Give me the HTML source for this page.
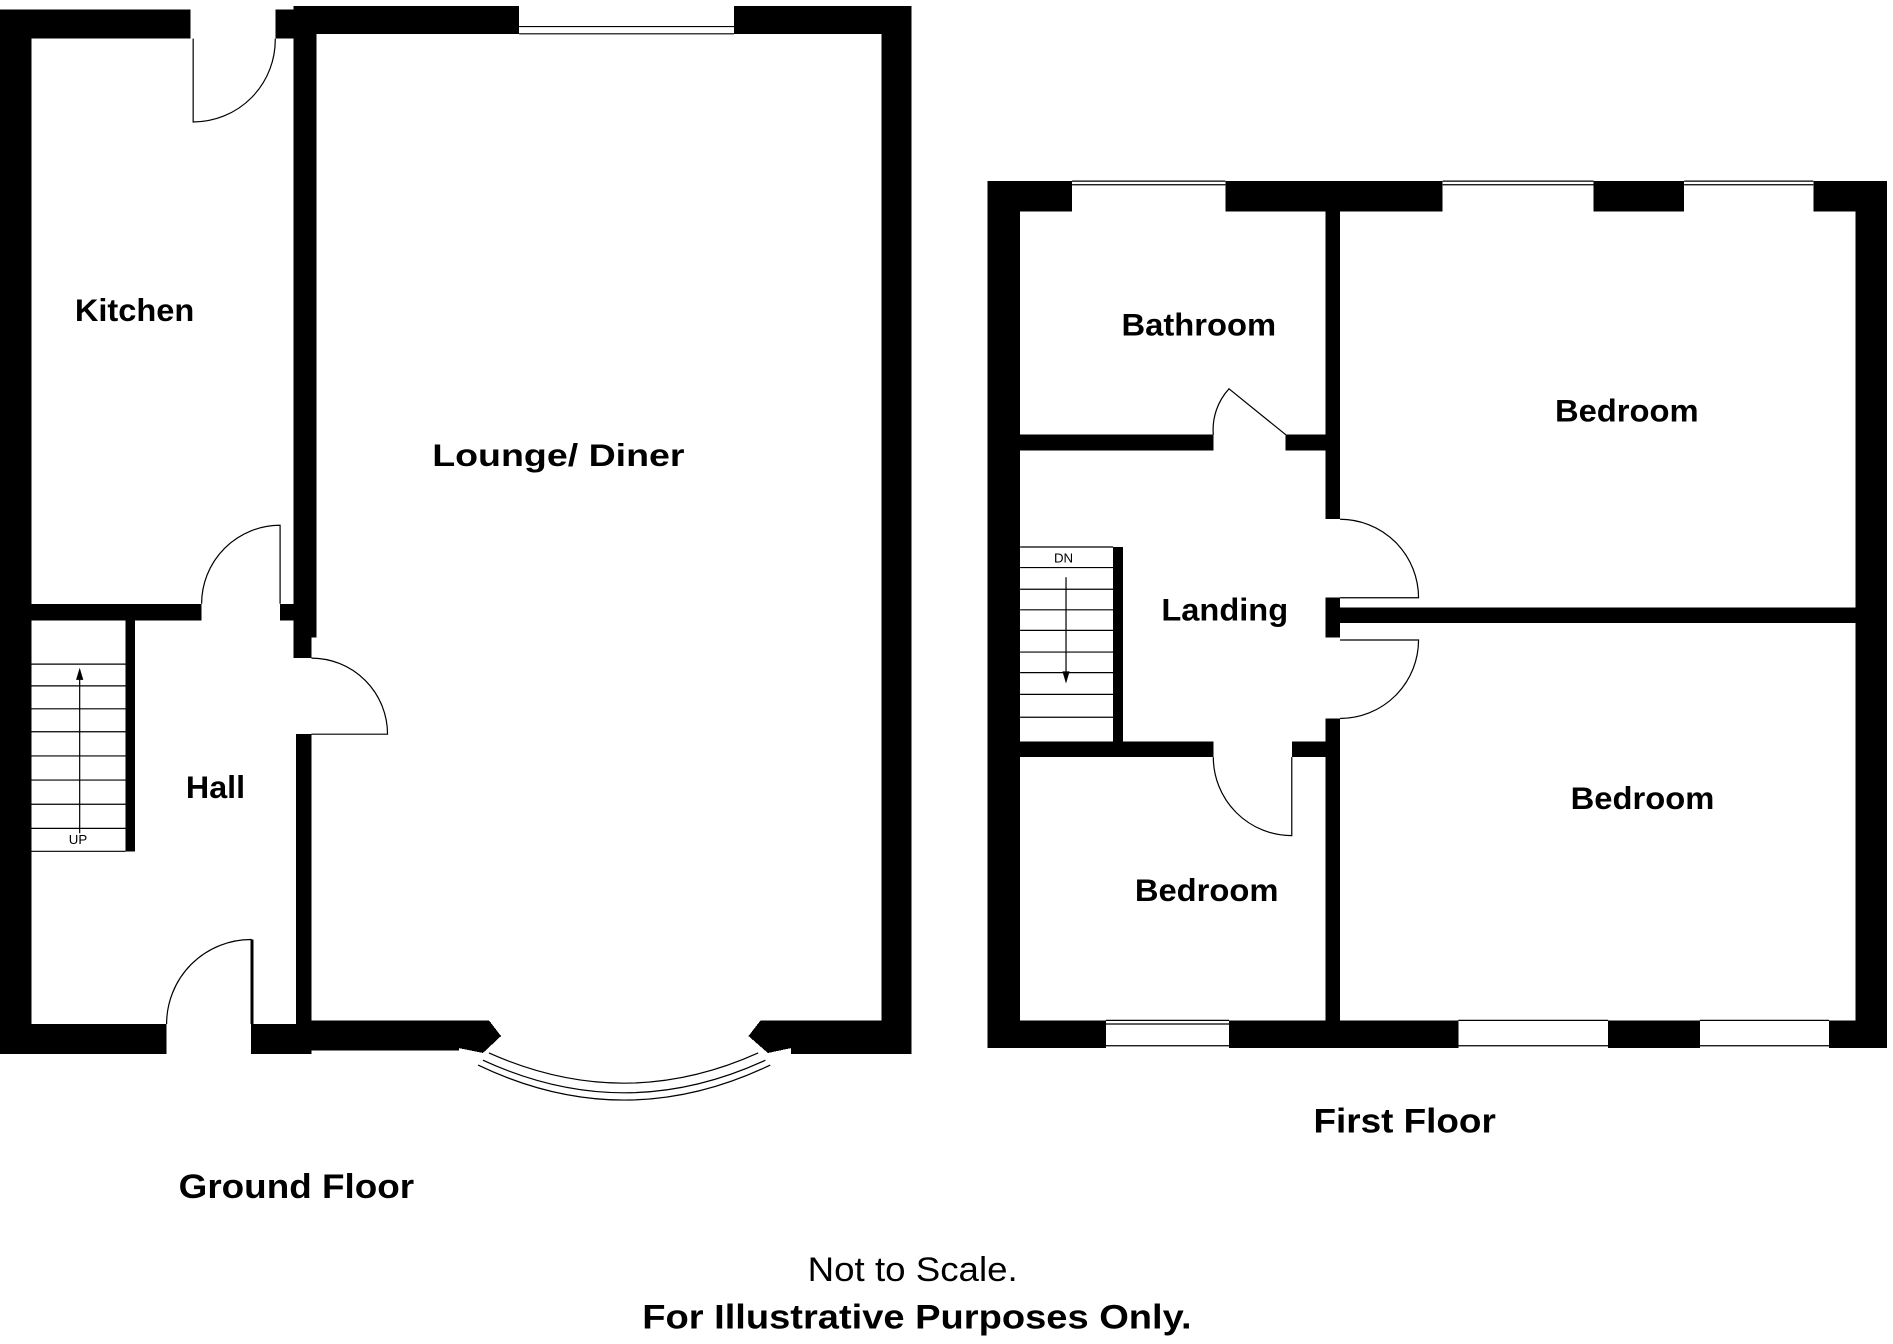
<!DOCTYPE html>
<html><head><meta charset="utf-8"><style>
html,body{margin:0;padding:0;background:#fff;}
svg{display:block}
text{font-family:"Liberation Sans",sans-serif;}
</style></head><body>
<svg width="1893" height="1344" viewBox="0 0 1568 1113" preserveAspectRatio="none" xmlns="http://www.w3.org/2000/svg">
<g fill="#000" shape-rendering="crispEdges">
<!-- Ground floor -->
<rect x="0" y="8" width="26" height="865"/>
<rect x="0" y="8" width="158" height="24"/>
<rect x="228" y="8" width="17" height="24"/>
<rect x="243" y="5" width="187" height="23"/>
<rect x="608" y="5" width="147" height="23"/>
<rect x="730" y="5" width="25" height="868"/>
<rect x="243" y="5" width="19" height="523"/>
<rect x="0" y="848" width="138" height="25"/>
<rect x="208" y="848" width="50" height="25"/>
<rect x="245" y="845" width="135" height="25"/>
<rect x="655" y="845" width="100" height="28"/>
<polygon points="380,845 405,845 415,858 400,872 380,868"/>
<polygon points="655,845 630,845 620,858 636,872 655,868"/>
<rect x="26" y="500" width="141" height="14"/>
<rect x="232" y="500" width="13" height="14"/>
<rect x="245" y="608" width="13" height="240"/>
<rect x="243" y="528" width="15" height="17"/>
<rect x="104" y="514" width="8" height="191"/>
<rect x="208" y="778" width="2" height="70"/>
<!-- First floor -->
<rect x="818" y="150" width="27" height="718"/>
<rect x="818" y="150" width="70" height="25"/>
<rect x="1015" y="150" width="180" height="25"/>
<rect x="1320" y="150" width="75" height="25"/>
<rect x="1502" y="150" width="61" height="25"/>
<rect x="1537" y="150" width="26" height="718"/>
<rect x="818" y="845" width="98" height="23"/>
<rect x="1018" y="845" width="190" height="23"/>
<rect x="1332" y="845" width="76" height="23"/>
<rect x="1515" y="845" width="48" height="23"/>
<rect x="1098" y="175" width="12" height="255"/>
<rect x="1098" y="495" width="12" height="33"/>
<rect x="1098" y="595" width="12" height="250"/>
<rect x="845" y="360" width="160" height="13"/>
<rect x="1065" y="360" width="33" height="13"/>
<rect x="1110" y="503" width="427" height="13"/>
<rect x="845" y="614" width="160" height="13"/>
<rect x="1070" y="614" width="28" height="13"/>
<rect x="922" y="453" width="8" height="174"/>
</g>
<g fill="none" stroke="#000" stroke-width="1">
<path d="M430 22H608M430 28H608"/>
<path d="M888 150H1015M888 153H1015M1195 150H1320M1195 153H1320M1395 150H1502M1395 153H1502"/>
<path d="M916 845H1018M916 848H1018M916 866H1018M1208 845H1332M1208 866H1332M1408 845H1515M1408 866H1515"/>
<path d="M405 872Q517 922 628 872"/>
<path d="M400 878Q517 932 634 878"/>
<path d="M396 882Q517 940 638 882"/>
<path d="M160 32V101A68 68 0 0 0 228 32"/>
<path d="M167 500A65 65 0 0 1 232 435V500"/>
<path d="M258 545A63 63 0 0 1 321 608H258"/>
<path d="M138 848A70 70 0 0 1 208 778V848"/>
<path d="M1005 360A50 50 0 0 1 1018 322L1065 360"/>
<path d="M1110 430A65 65 0 0 1 1175 495H1110"/>
<path d="M1110 595A65 65 0 0 0 1175 530H1110"/>
<path d="M1005 627A65 65 0 0 0 1070 692V627"/>
<path d="M26 550H104M26 568H104M26 587H104M26 606H104M26 626H104M26 646H104M26 666H104M26 686H104M26 705H104"/>
<path d="M66 690V555"/>
<path d="M845 453H922M845 470H922M845 488H922M845 505H922M845 522H922M845 540H922M845 557H922M845 575H922M845 594H922"/>
<path d="M883 478V562"/>
</g>
<polygon points="66,553 63,563 69,563" fill="#000"/>
<polygon points="883,566 880,556 886,556" fill="#000"/>
<g font-weight="bold" font-size="26" fill="#000" lengthAdjust="spacingAndGlyphs">
<text x="62" y="266" textLength="99" lengthAdjust="spacingAndGlyphs">Kitchen</text>
<text x="358" y="386" textLength="209" lengthAdjust="spacingAndGlyphs">Lounge/ Diner</text>
<text x="154" y="661" textLength="49" lengthAdjust="spacingAndGlyphs">Hall</text>
<text x="929" y="278" textLength="128" lengthAdjust="spacingAndGlyphs">Bathroom</text>
<text x="1288" y="349" textLength="119" lengthAdjust="spacingAndGlyphs">Bedroom</text>
<text x="962" y="514" textLength="105" lengthAdjust="spacingAndGlyphs">Landing</text>
<text x="1301" y="670" textLength="119" lengthAdjust="spacingAndGlyphs">Bedroom</text>
<text x="940" y="746" textLength="119" lengthAdjust="spacingAndGlyphs">Bedroom</text>
<text x="1088" y="938" font-size="28" textLength="151" lengthAdjust="spacingAndGlyphs">First Floor</text>
<text x="148" y="992" font-size="28" textLength="195" lengthAdjust="spacingAndGlyphs">Ground Floor</text>
<text x="532" y="1100" font-size="28" textLength="455" lengthAdjust="spacingAndGlyphs">For Illustrative Purposes Only.</text>
</g>
<text x="669" y="1061" font-size="28" fill="#000" textLength="174" lengthAdjust="spacingAndGlyphs">Not to Scale.</text>
<text x="57" y="699" font-size="11" fill="#000">UP</text>
<text x="873" y="466" font-size="11" fill="#000">DN</text>
</svg>
</body></html>
